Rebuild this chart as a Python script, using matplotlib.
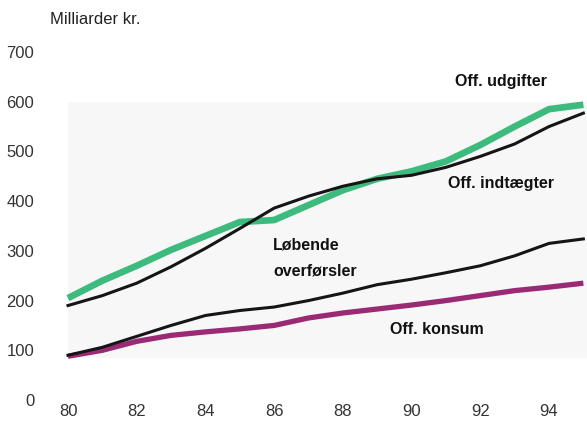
import matplotlib
matplotlib.use("Agg")
import matplotlib.pyplot as plt
from matplotlib.patches import Rectangle

years = list(range(1980, 1996))
udgifter = [205, 240, 270, 302, 330, 358, 362, 392, 422, 445, 460, 480, 513, 550, 585, 594]
indtaegter = [190, 210, 235, 268, 305, 345, 386, 410, 430, 445, 452, 468, 490, 515, 550, 577]
overfoersler = [90, 106, 128, 150, 170, 180, 187, 200, 215, 232, 243, 256, 270, 290, 315, 324]
konsum = [88, 100, 118, 130, 137, 143, 150, 165, 175, 183, 191, 200, 210, 220, 227, 235]

xticks = [1980, 1982, 1984, 1986, 1988, 1990, 1992, 1994]
xticklabels = ["80", "82", "84", "86", "88", "90", "92", "94"]
yticks = [0, 100, 200, 300, 400, 500, 600, 700]

plt.rcParams['font.family'] = ['Liberation Sans', 'DejaVu Sans']

W, H = 587, 440
fig = plt.figure(figsize=(W / 100, H / 100), dpi=100)
left_px, right_px = 55, 587
top_px, bot_px = 52, 400
ax = fig.add_axes([left_px / W, 1 - bot_px / H, (right_px - left_px) / W, (bot_px - top_px) / H])

px_per_year = (549 - 68) / 14.0
ax.set_xlim(1980 - (68 - left_px) / px_per_year, 1980 + (right_px - 68) / px_per_year)
ax.set_ylim(0, 700)

# faint background panel
ax.add_patch(Rectangle((1980, 85), 15.1, 515, facecolor='#f7f7f7', edgecolor='none', zorder=0))

ax.plot(years, udgifter, color='#3dba7e', lw=4.8, solid_capstyle='butt', zorder=2)
ax.plot(years, konsum, color='#9b2a75', lw=3.8, solid_capstyle='butt', zorder=2)
ax.plot(years, indtaegter, color='#151515', lw=2.2, zorder=3)
ax.plot(years, overfoersler, color='#151515', lw=2.2, zorder=3)

for s in ax.spines.values():
    s.set_visible(False)
ax.set_xticks(xticks)
ax.set_xticklabels(xticklabels)
ax.set_yticks(yticks)
ax.tick_params(axis='both', length=0, labelsize=12, colors='#333333')
ax.tick_params(axis='y', pad=15)
ax.tick_params(axis='x', pad=3)
for lab in ax.get_yticklabels():
    lab.set_horizontalalignment('right')

fig.text(50 / W, 1 - 20 / H, "Milliarder kr.", fontsize=12, color='#222222', va='center', ha='left')

tkw = dict(fontsize=11.5, fontweight='bold', color='#111111', ha='center', va='center')
ax.text(1992.6, 641, "Off. udgifter", **tkw)
ax.text(1992.6, 436, "Off. indtægter", **tkw)
ax.text(1985.97, 312, "Løbende", ha='left', va='center', fontsize=11.5, fontweight='bold', color='#111111')
ax.text(1985.97, 259, "overførsler", ha='left', va='center', fontsize=11.5, fontweight='bold', color='#111111')
ax.text(1990.75, 141, "Off. konsum", **tkw)

fig.savefig("out.png", dpi=100, facecolor='white')
